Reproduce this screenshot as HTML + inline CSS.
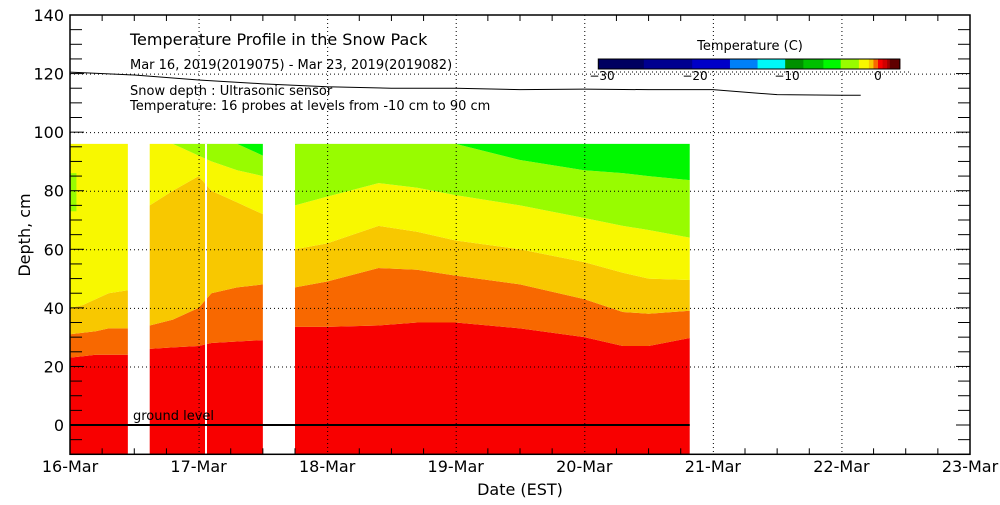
<!DOCTYPE html>
<html><head><meta charset="utf-8"><style>
body{margin:0;background:#fff}
svg text{font-family:"DejaVu Sans","Liberation Sans",sans-serif;}
</style></head><body>
<svg id="c" width="1000" height="500" xmlns="http://www.w3.org/2000/svg"></svg>
<script>
// ---- data ----
const dayLabels=["16-Mar","17-Mar","18-Mar","19-Mar","20-Mar","21-Mar","22-Mar","23-Mar"];
const yTicks=[0,20,40,60,80,100,120,140];
const bandColors=["#f80000","#f86800","#f8c800","#f8f800","#98fc00","#00f800"];
const topDepth=96;
const seg1T=[0,0.1,0.2,0.3,0.45];
const seg1B=[[23,23.5,24,24,24],[31,31.5,32,33,33],[40,41,43,45,46],[99,99,99,99,99],[99,99,99,99,99]];
const seg2T=[0.62,0.8,1.0,1.1,1.3,1.5];
const seg2B=[[26,26.5,27,28,28.5,29],[34,36,40,45,47,48],[75,80,85,80,76,72],[100,100,92,90,87,85],[99,99,99,99,96,92]];
const seg3T=[1.75,2.0,2.4,2.7,3.0,3.5,4.0,4.3,4.5,4.82];
const seg3B=[[33.5,33.5,34,35,35,33,30,27,27,29.7],[47,49,53.6,53,51,48,43,38.6,38,39],[60,62,68,66,63,60,55.6,52,50,49.5],[75,78,82.6,81,78.5,75,70.7,68,66.6,64],[99,99,97,96,97,90.5,87,86,85,83.6]];
const patchT=[0,0.05];
const patchLo=[73,73];
const patchHi=[86,86];
const snowT=[0,0.5,1.0,1.5,2.0,2.5,3.0,3.5,4.0,4.5,5.0,5.5,6.0,6.15];
const snowD=[120.5,119.5,117.8,116.5,115.5,115,115,114.5,114.7,114.5,114.5,112.8,112.6,112.6];
const cbTicks=[-30,-20,-10,0];
const cbColors=["#000060","#000090","#0000c8","#0080f8","#00f8f8","#009000","#00c000","#00f800","#98fc00","#f8f800","#f8c800","#f86800","#f80000","#d00000","#a00000","#600000"];
const cbVals=[-30.4,-25.5,-20.3,-16.2,-13.2,-10.2,-8.2,-6.0,-4.1,-2.1,-1.0,-0.5,0,0.5,1.0,1.3,2.4];
// ---- axes ----
const X0=70,X1=970,YT=15,YB=454.3;
const xs=d=>X0+d*(X1-X0)/7;
const ys=v=>YB-(v+10)*(YB-YT)/150;
const svg=document.getElementById('c');
const NS="http://www.w3.org/2000/svg";
function mk(t,a,p){const e=document.createElementNS(NS,t);for(const k in a)e.setAttribute(k,a[k]);(p||svg).appendChild(e);return e;}
function band(T,lo,hi,col){let pts=[];for(let i=0;i<T.length;i++)pts.push(xs(T[i])+","+ys(Math.min(hi[i],topDepth)));for(let i=T.length-1;i>=0;i--)pts.push(xs(T[i])+","+ys(Math.min(lo[i],topDepth)));
const p=mk('polygon',{points:pts.join(' '),fill:col});

}
[[seg1T,seg1B],[seg2T,seg2B],[seg3T,seg3B]].forEach(([T,B])=>{
 const bot=T.map(()=>-10),top=T.map(()=>topDepth);
 const bounds=[bot,...B,top];
 for(let k=0;k<6;k++)band(T,bounds[k],bounds[k+1],bandColors[k]);
});
band(patchT,patchLo,patchHi,bandColors[4]);
mk('line',{x1:206,x2:206,y1:ys(topDepth),y2:YB,stroke:'#fff','stroke-width':2});
// grid
const g=mk('g',{stroke:'#000','stroke-dasharray':'1,3','stroke-width':1});

for(let d=1;d<7;d++)mk('line',{x1:xs(d)+0.5,x2:xs(d)+0.5,y1:YT,y2:YB},g);
yTicks.forEach(v=>{if(v>0&&v<140)mk('line',{x1:X0,x2:X1,y1:ys(v)+0.5,y2:ys(v)+0.5},g);});
mk('rect',{x:X0,y:YT,width:X1-X0,height:YB-YT,fill:'none',stroke:'#000','stroke-width':1.5});
mk('line',{x1:X0,x2:xs(4.82),y1:ys(0),y2:ys(0),stroke:'#000','stroke-width':2});
const gl=mk('text',{x:133,y:420,'font-size':13});gl.textContent='ground level';
for(let v=-10;v<=140;v+=5){const maj=v%20===0;const L=maj?14:12;
 mk('line',{x1:X0,x2:X0+L,y1:ys(v),y2:ys(v),stroke:'#000'});
 mk('line',{x1:X1,x2:X1-L,y1:ys(v),y2:ys(v),stroke:'#000'});}
yTicks.forEach(v=>{const t=mk('text',{x:64,y:ys(v)+6,'text-anchor':'end','font-size':16});t.textContent=v;
 });
for(let q=0;q<=28;q++){const x=xs(q/4);const L=q%4===0?0:6;
 mk('line',{x1:x,x2:x,y1:YB,y2:YB-L,stroke:'#000'});mk('line',{x1:x,x2:x,y1:YT,y2:YT+L,stroke:'#000'});}
dayLabels.forEach((l,i)=>{const t=mk('text',{x:xs(i),y:472,'text-anchor':'middle','font-size':16});t.textContent=l;
 });
const xt=mk('text',{x:520,y:495,'text-anchor':'middle','font-size':16});xt.textContent='Date (EST)';

const yt=mk('text',{x:0,y:0,'text-anchor':'middle','font-size':16,transform:'translate(30,235) rotate(-90)'});yt.textContent='Depth, cm';

const sp=mk('polyline',{points:snowT.map((t,i)=>xs(t)+","+ys(snowD[i])).join(' '),fill:'none',stroke:'#000','stroke-width':1});

[["Temperature Profile in the Snow Pack",130,45,16],["Mar 16, 2019(2019075) - Mar 23, 2019(2019082)",130,69,13],["Snow depth : Ultrasonic sensor",130,95,13],["Temperature: 16 probes at levels from -10 cm to 90 cm",130,110,13]].forEach(([s,x,y,f])=>{const t=mk('text',{x,y,'font-size':f});t.textContent=s;});
// colorbar: piecewise-linear scale anchored at tick positions
const cbAnchorV=[-30,-20,-10,0,10];
const cbAnchorX=[602,695,787,878,969];
function cv(v){for(let i=0;i<cbAnchorV.length-1;i++){if(v<=cbAnchorV[i+1]||i===cbAnchorV.length-2){const a=cbAnchorV[i],b=cbAnchorV[i+1];return cbAnchorX[i]+(v-a)*(cbAnchorX[i+1]-cbAnchorX[i])/(b-a);}}}
const ct=mk('text',{x:750,y:50,'text-anchor':'middle','font-size':13});ct.textContent='Temperature (C)';
for(let i=0;i<cbColors.length;i++){const r=mk('rect',{x:cv(cbVals[i]),y:59,width:cv(cbVals[i+1])-cv(cbVals[i])+0.5,height:10,fill:cbColors[i]});
 }
mk('rect',{x:cv(cbVals[0]),y:59,width:cv(cbVals[cbVals.length-1])-cv(cbVals[0]),height:10,fill:'none',stroke:'#000'});
mk('line',{x1:592,x2:910,y1:72,y2:72,stroke:'#000','stroke-dasharray':'1,3'});
cbTicks.forEach(v=>{const t=mk('text',{x:cv(v),y:80,'text-anchor':'middle','font-size':12});t.textContent=v===0?'0':'\u2212'+Math.abs(v);
 });
</script>
</body></html>
